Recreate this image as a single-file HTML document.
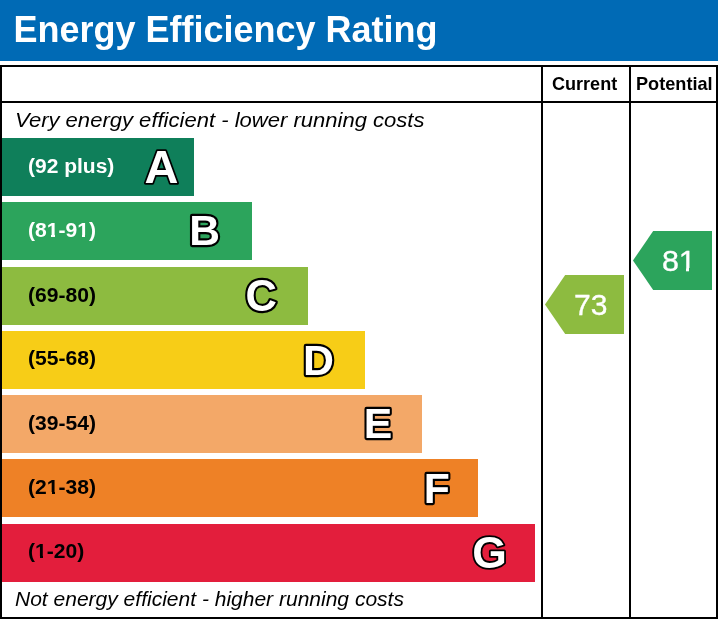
<!DOCTYPE html>
<html><head><meta charset="utf-8">
<style>
html,body{margin:0;padding:0;background:#fff;}
body{width:718px;height:619px;overflow:hidden;font-family:"Liberation Sans",sans-serif;}
#root{position:relative;width:718px;height:619px;overflow:hidden;background:#fff;will-change:transform;}
.abs{position:absolute;}
#hdr{left:0;top:0;width:718px;height:61px;background:#006ab5;}
.t{white-space:nowrap;transform-origin:0 0;}
#title{left:13.4px;top:10px;color:#fff;font-weight:bold;font-size:36px;line-height:40px;}
.ln{background:#000;}
.bar{left:2px;height:58px;}
.rng{left:28.3px;font-weight:bold;font-size:20px;line-height:24px;transform:scaleX(1.055);}
.w{color:#fff;} .k{color:#000;}
.it{font-style:italic;font-size:20.5px;line-height:24px;color:#000;}
.colh{font-weight:bold;font-size:17.8px;line-height:20px;color:#000;}
.num{color:#fff;font-size:30.5px;line-height:32px;-webkit-text-stroke:0.35px #fff;}
svg{position:absolute;left:0;top:0;}
.L{fill:#fff;stroke:#000;stroke-linejoin:round;paint-order:stroke;font-family:"Liberation Sans",sans-serif;font-weight:bold;text-anchor:middle;}
</style></head><body><div id="root">
<div class="abs" id="hdr"></div>
<div class="abs t" id="title">Energy Efficiency Rating</div>

<div class="abs ln" style="left:0;top:65px;width:718px;height:2px"></div>
<div class="abs ln" style="left:0;top:617px;width:718px;height:2px"></div>
<div class="abs ln" style="left:0;top:65px;width:2px;height:554px"></div>
<div class="abs ln" style="left:716px;top:65px;width:2px;height:554px"></div>
<div class="abs ln" style="left:0;top:101px;width:718px;height:2px"></div>
<div class="abs ln" style="left:541px;top:65px;width:2px;height:554px"></div>
<div class="abs ln" style="left:629px;top:65px;width:2px;height:554px"></div>

<div class="abs t colh" style="left:551.6px;top:73.6px;transform:scaleX(1.015)">Current</div>
<div class="abs t colh" style="left:635.8px;top:73.6px;transform:scaleX(1.02)">Potential</div>

<div class="abs t it" style="left:15.2px;top:108px;transform:scaleX(1.075)">Very energy efficient - lower running costs</div>
<div class="abs t it" style="left:15px;top:587px;transform:scaleX(1.025)">Not energy efficient - higher running costs</div>

<div class="abs bar" style="top:138px;width:192px;background:#0f7f5a"></div>
<div class="abs bar" style="top:202px;width:250px;background:#2ca45c"></div>
<div class="abs bar" style="top:267px;width:306px;background:#8dbb40"></div>
<div class="abs bar" style="top:331px;width:363px;background:#f7cd17"></div>
<div class="abs bar" style="top:395px;width:420px;background:#f3a868"></div>
<div class="abs bar" style="top:459px;width:476px;background:#ee8126"></div>
<div class="abs bar" style="top:524px;width:533px;background:#e31e3c"></div>

<div class="abs t rng w" style="top:154px;transform:scaleX(1.05)">(92 plus)</div>
<div class="abs t rng w" style="top:218px">(81-91)</div>
<div class="abs t rng k" style="top:283px">(69-80)</div>
<div class="abs t rng k" style="top:346px">(55-68)</div>
<div class="abs t rng k" style="top:411px">(39-54)</div>
<div class="abs t rng k" style="top:475px">(21-38)</div>
<div class="abs t rng k" style="top:538.5px">(1-20)</div>

<svg width="718" height="619" viewBox="0 0 718 619">
  <polygon points="545,304.5 565.2,275 624,275 624,334 565.2,334" fill="#8dbb40"/>
  <polygon points="633,260.5 653.2,231 712,231 712,290 653.2,290" fill="#2ca45c"/>
  <text class="L" x="161.5" y="182.75" font-size="47" stroke-width="3.6">A</text>
  <text class="L" x="204.5" y="245.2" font-size="42.5" stroke-width="4.3">B</text>
  <text class="L" x="261.2" y="310.8" font-size="43.5" stroke-width="4.3">C</text>
  <text class="L" x="318.4" y="375.3" font-size="42.9" stroke-width="4.3">D</text>
  <text class="L" x="377.95" y="438.3" font-size="42.7" stroke-width="4.3">E</text>
  <text class="L" x="436.75" y="503.3" font-size="42.7" stroke-width="4.3">F</text>
  <text class="L" x="489.65" y="567.9" font-size="44.5" stroke-width="3.7">G</text>
</svg>
<div class="abs t num" style="left:573.7px;top:289.1px;transform:scale(0.985,0.965)">73</div>
<div class="abs t num" style="left:661.9px;top:245.1px;transform:scale(1.0,0.965)">81</div>
<div class="abs" style="left:680px;top:268px;width:6px;height:4px;background:#2ca45c"></div>
<div class="abs" style="left:689px;top:268px;width:6px;height:4px;background:#2ca45c"></div>
<div class="abs" style="left:48px;top:235px;width:3px;height:2px;background:#2ca45c"></div>
<div class="abs" style="left:55px;top:235px;width:3px;height:2px;background:#2ca45c"></div>
<div class="abs" style="left:78px;top:235px;width:4px;height:2px;background:#2ca45c"></div>
<div class="abs" style="left:85px;top:235px;width:4px;height:2px;background:#2ca45c"></div>
<div class="abs" style="left:48px;top:492px;width:4px;height:2px;background:#ee8126"></div>
<div class="abs" style="left:55px;top:492px;width:3px;height:2px;background:#ee8126"></div>
<div class="abs" style="left:36px;top:556px;width:4px;height:2px;background:#e31e3c"></div>
<div class="abs" style="left:43px;top:556px;width:4px;height:2px;background:#e31e3c"></div>
</div></body></html>
